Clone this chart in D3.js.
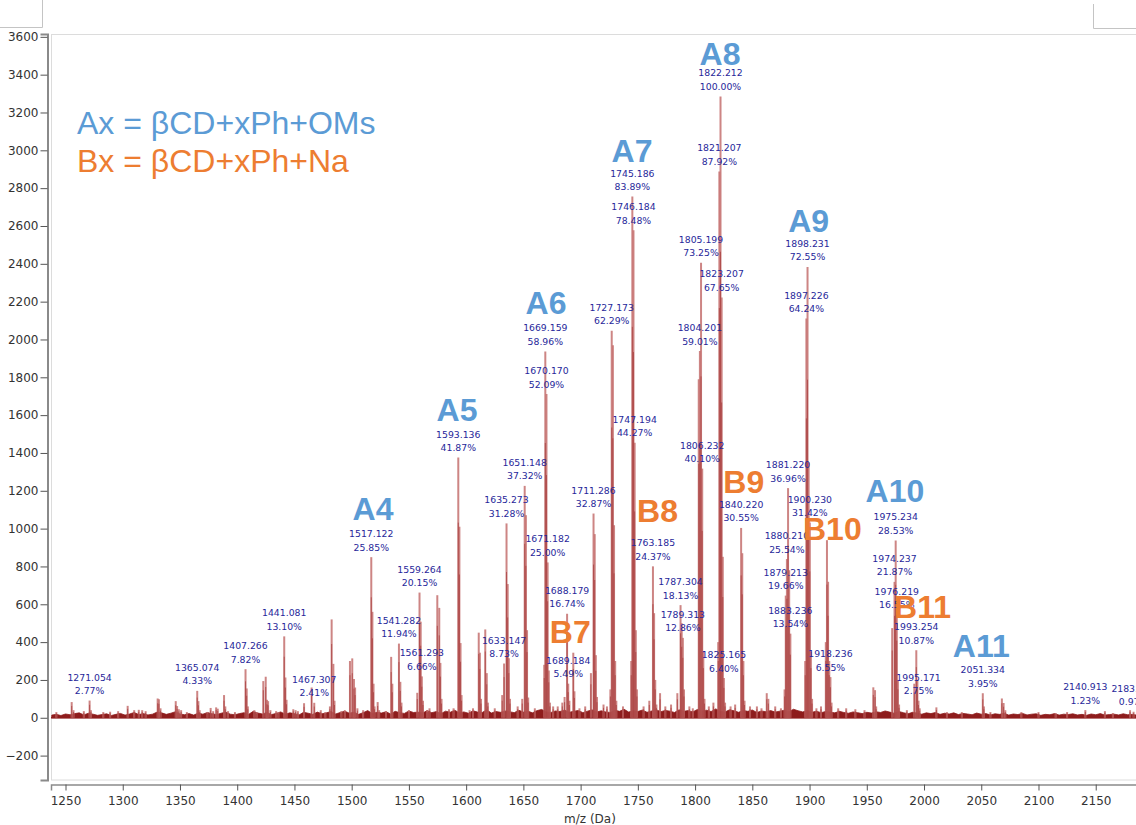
<!DOCTYPE html>
<html>
<head>
<meta charset="utf-8">
<script src="https://cdn.jsdelivr.net/npm/d3@7"></script>
<style>
  body { margin: 0; background: #fff; }
  svg { display: block; font-family: "DejaVu Sans", Verdana, sans-serif; }
</style>
</head>
<body>
<div id="chart"></div>
<script>
// tick labels
const xTickValues = [1250, 1300, 1350, 1400, 1450, 1500, 1550, 1600, 1650, 1700, 1750, 1800, 1850, 1900, 1950, 2000, 2050, 2100, 2150];
const yTickValues = [-200, 0, 200, 400, 600, 800, 1000, 1200, 1400, 1600, 1800, 2000, 2200, 2400, 2600, 2800, 3000, 3200, 3400, 3600];

// intensity of the 100% peak (1822.212)
const basePeak = 3285;

// labelled peaks: m/z text and relative intensity
const labelMz = ["1271.054", "1365.074", "1407.266", "1441.081", "1467.307", "1517.122", "1541.282", "1559.264", "1561.293", "1593.136",
  "1633.147", "1635.273", "1651.148", "1669.159", "1670.170", "1671.182", "1688.179", "1689.184", "1711.286", "1727.173",
  "1745.186", "1746.184", "1747.194", "1763.185", "1787.304", "1789.313", "1804.201", "1805.199", "1806.232", "1821.207",
  "1822.212", "1823.207", "1825.165", "1840.220", "1879.213", "1880.210", "1881.220", "1883.236", "1897.226", "1898.231",
  "1900.230", "1918.236", "1974.237", "1975.234", "1976.219", "1993.254", "1995.171", "2051.334", "2140.913", "2183.053"];
const labelPct = [2.77, 4.33, 7.82, 13.10, 2.41, 25.85, 11.94, 20.15, 6.66, 41.87,
  8.73, 31.28, 37.32, 58.96, 52.09, 25.00, 16.74, 5.49, 32.87, 62.29,
  83.89, 78.48, 44.27, 24.37, 18.13, 12.86, 59.01, 73.25, 40.10, 87.92,
  100.00, 67.65, 6.40, 30.55, 19.66, 25.54, 36.96, 13.54, 64.24, 72.55,
  31.42, 6.55, 21.87, 28.53, 16.55, 10.87, 2.75, 3.95, 1.23, 0.97];

// unlabelled peaks [m/z, intensity]
const minorPeaks = [
  [1242, 30], [1255.4, 83], [1257, 40], [1266, 35], [1272.2, 40], [1283, 30], [1289, 32], [1296, 35], [1304.3, 63], [1310, 40],
  [1314, 42], [1317, 40], [1320, 35], [1330.5, 102], [1331.6, 98], [1333, 50], [1346.3, 88], [1347.5, 62], [1349, 45], [1351, 40],
  [1356, 30], [1366.1, 88], [1367.2, 40], [1374, 30], [1376.8, 52], [1379, 35], [1381.6, 55], [1383, 48], [1388.5, 120], [1389.6, 60],
  [1392, 35], [1398, 30], [1408.3, 155], [1409.3, 60], [1415, 40], [1417, 30], [1422.8, 194], [1424.9, 217], [1426, 95], [1427, 88],
  [1429, 40], [1434, 35], [1436, 30], [1442.1, 213], [1443.1, 95], [1449, 45], [1451, 40], [1453, 35], [1458.4, 77], [1465, 160],
  [1473, 40], [1477, 30], [1481, 60], [1482.5, 520], [1484, 285], [1485, 90], [1491, 35], [1494, 40], [1498.5, 300], [1500.5, 314],
  [1502, 205], [1503, 160], [1505, 50], [1510, 40], [1518.1, 560], [1519.1, 180], [1520, 60], [1522.7, 83], [1524, 40], [1530, 35],
  [1534.5, 322], [1535.5, 180], [1542.5, 190], [1543.5, 80], [1550, 40], [1557.3, 132], [1560.3, 508], [1562.3, 90], [1566, 40], [1568, 50],
  [1574.8, 648], [1576.5, 581], [1577.5, 290], [1578.5, 100], [1585, 45], [1589, 50], [1594.1, 1010], [1595.1, 395], [1596, 120], [1603, 40],
  [1606, 50], [1611, 450], [1612, 344], [1613, 100], [1616.7, 467], [1618, 236], [1619, 80], [1625, 50], [1631.5, 120], [1636.3, 707],
  [1637.3, 315], [1638.3, 100], [1645, 60], [1649, 100], [1652.2, 1071], [1653.2, 463], [1654.2, 107], [1660, 50], [1668.2, 280], [1672.2, 250],
  [1673.2, 80], [1676, 60], [1680, 60], [1684, 80], [1686, 110], [1690.2, 90], [1693.6, 344], [1694.6, 140], [1699, 50], [1704, 60],
  [1709, 236], [1712.3, 971], [1713.3, 331], [1714.3, 110], [1720, 70], [1723, 60], [1726, 150], [1728.2, 1970], [1729.2, 1018], [1730.2, 300],
  [1731.2, 90], [1737, 60], [1744.2, 300], [1748.2, 463], [1749.2, 150], [1755, 60], [1760, 90], [1764.2, 553], [1765.2, 200], [1766.2, 70],
  [1769.4, 130], [1774, 60], [1779, 70], [1784.5, 130], [1788.3, 500], [1790.3, 150], [1795, 60], [1798, 50], [1803.2, 1790], [1807.2, 350],
  [1808.2, 100], [1812, 60], [1816, 80], [1820.2, 400], [1824.2, 851], [1826.2, 80], [1831, 60], [1835, 70], [1841.2, 870], [1842.2, 300],
  [1843.2, 90], [1848, 60], [1854, 60], [1858, 50], [1862.6, 130], [1864, 100], [1870, 60], [1875, 50], [1878.2, 150], [1882.2, 780],
  [1896.2, 300], [1899.2, 1350], [1901.2, 350], [1902.2, 100], [1906, 50], [1910, 60], [1914.2, 400], [1915.2, 939], [1916.2, 719], [1917.2, 300],
  [1919.2, 80], [1925, 50], [1932, 50], [1940, 45], [1948, 40], [1955.7, 161], [1957.2, 146], [1958.2, 60], [1972.2, 474], [1977.2, 200],
  [1978.2, 70], [1985, 40], [1991.5, 180], [1994.2, 200], [1996.2, 50], [2010.8, 55], [2020, 30], [2033, 30], [2052.3, 60], [2058, 30],
  [2068, 102], [2069.5, 78], [2071, 40], [2085, 30], [2100, 30], [2115, 25], [2125, 30], [2158, 35], [2165, 25], [2180, 40], [2186, 30]
];

// baseline noise, one value every 4 Da from 1238
const noiseStart = 1238;
const noiseStep = 4;
const noise = [
  14, 18, 12, 20, 16, 22, 26, 15, 24, 19, 13, 17, 21, 12, 18, 23, 14, 20, 28, 17,
  22, 15, 19, 30, 26, 18, 24, 32, 20, 16, 22, 14, 25, 19, 28, 21, 17, 24, 30, 19,
  16, 22, 27, 18, 34, 25, 20, 28, 17, 23, 31, 19, 26, 22, 15, 29, 24, 18, 30, 21,
  26, 33, 20, 28, 35, 24, 30, 18, 27, 38, 22, 29, 25, 32, 20, 34, 27, 23, 36, 28,
  30, 25, 38, 27, 33, 22, 35, 29, 40, 26, 31, 24, 37, 30, 28, 42, 25, 33, 29, 36,
  32, 27, 40, 30, 35, 26, 38, 44, 31, 28, 36, 33, 41, 29, 34, 39, 27, 35, 42, 30,
  37, 31, 28, 40, 34, 45, 30, 38, 33, 41, 29, 36, 43, 32, 39, 35, 28, 42, 34, 38,
  31, 44, 36, 40, 33, 47, 35, 30, 42, 37, 29, 39, 34, 41, 28, 36, 32, 38, 30, 35,
  40, 33, 45, 37, 31, 38, 29, 35, 27, 33, 30, 26, 34, 28, 24, 31, 27, 22, 29, 25,
  32, 28, 36, 30, 24, 33, 27, 21, 29, 25, 19, 26, 22, 28, 18, 24, 20, 26, 17, 23,
  20, 16, 25, 19, 22, 15, 21, 18, 24, 14, 20, 17, 23, 15, 19, 21, 13, 18, 16, 22,
  14, 19, 17, 21, 15, 18, 13, 20, 16, 22, 14, 17, 19, 15, 21, 16, 18, 14, 20
];

// series annotations: name, m/z position, intensity of the text baseline
const seriesNames = ["A4", "A5", "A6", "A7", "A8", "A9", "A10", "A11", "B7", "B8", "B9", "B10", "B11"];
const seriesMz = [1518.6, 1592.0, 1669.8, 1744.9, 1821.8, 1899.2, 1974.6, 2050.0, 1691.0, 1767.2, 1842.5, 1919.9, 1998.7];
const seriesY = [1043, 1570, 2134, 2940, 3451, 2566, 1142, 323, 394, 1037, 1187, 940, 526];

const legendLines = ["Ax = βCD+xPh+OMs", "Bx = βCD+xPh+Na"];

const W = 1136, H = 825;
const blue = "#5b9bd5", orange = "#ed7d31";

const svg = d3.select("#chart").append("svg")
  .attr("width", W)
  .attr("height", H);

const x = d3.scaleLinear()
  .domain([1237.33, 2190])
  .range([51, 51 + (2190 - 1237.33) * 1.1447]);

const y = d3.scaleLinear()
  .domain([-329, 3615])
  .range([780, 34]);

// window corners at the top
svg.append("path")
  .attr("d", "M0,27.5H42.5V0 M1093.5,4V28.5H1136")
  .attr("fill", "none")
  .attr("stroke", "#c4c4c4");

// plot frame
svg.append("rect")
  .attr("x", 51.5).attr("y", 34.5)
  .attr("width", 1100).attr("height", 745.5)
  .attr("fill", "none")
  .attr("stroke", "#dcdcdc");

const plot = svg.append("g");

// noise band
const noiseData = noise.map((v, i) => [noiseStart + i * noiseStep, v]);
plot.append("path")
  .datum(noiseData)
  .attr("fill", "#8e1c1c")
  .attr("stroke", "#8e1c1c")
  .attr("stroke-width", 0.8)
  .attr("d", d3.area().x(d => x(d[0])).y0(y(0)).y1(d => y(d[1])));

plot.append("line")
  .attr("x1", 51).attr("x2", W)
  .attr("y1", y(0)).attr("y2", y(0))
  .attr("stroke", "#8e1c1c")
  .attr("stroke-width", 1.5);

// sticks
const labelled = labelMz.map((m, i) => ({ mz: +m, text: m, pct: labelPct[i], val: labelPct[i] / 100 * basePeak }));
const sticks = minorPeaks.map(d => ({ mz: d[0], val: d[1] })).concat(labelled);

plot.selectAll(".stick-o")
  .data(sticks)
  .enter()
  .append("line")
  .attr("class", "stick-o")
  .attr("x1", d => x(d.mz)).attr("x2", d => x(d.mz))
  .attr("y1", y(0)).attr("y2", d => y(d.val))
  .attr("stroke", "#c4706e")
  .attr("stroke-opacity", 0.85)
  .attr("stroke-width", 2);

plot.selectAll(".stick-i")
  .data(sticks)
  .enter()
  .append("line")
  .attr("class", "stick-i")
  .attr("x1", d => x(d.mz)).attr("x2", d => x(d.mz))
  .attr("y1", y(0)).attr("y2", d => y(d.val * 0.75))
  .attr("stroke", "#9a2626")
  .attr("stroke-opacity", 0.55)
  .attr("stroke-width", 1);

// peak labels
const lab = plot.selectAll(".plab")
  .data(labelled)
  .enter()
  .append("text")
  .attr("class", "plab")
  .attr("text-anchor", "middle")
  .attr("font-size", 9.3)
  .attr("fill", "#27279a");
lab.append("tspan")
  .attr("x", d => x(d.mz))
  .attr("y", d => y(d.val) - 20)
  .text(d => d.text);
lab.append("tspan")
  .attr("x", d => x(d.mz))
  .attr("y", d => y(d.val) - 6.5)
  .text(d => d.pct.toFixed(2) + "%");

// series names
plot.selectAll(".sname")
  .data(seriesNames)
  .enter()
  .append("text")
  .attr("class", "sname")
  .attr("x", (d, i) => x(seriesMz[i]))
  .attr("y", (d, i) => y(seriesY[i]))
  .attr("text-anchor", "middle")
  .attr("font-family", "Liberation Sans, Arial, sans-serif")
  .attr("font-weight", "bold")
  .attr("font-size", 32)
  .attr("fill", d => d[0] === "A" ? blue : orange)
  .text(d => d);

// legend text
svg.selectAll(".legend")
  .data(legendLines)
  .enter()
  .append("text")
  .attr("class", "legend")
  .attr("x", 77)
  .attr("y", (d, i) => 134 + i * 38)
  .attr("font-family", "Liberation Sans, Arial, sans-serif")
  .attr("font-size", 32)
  .attr("fill", (d, i) => i === 0 ? blue : orange)
  .text(d => d);

// y axis
const yAxisG = svg.append("g")
  .attr("transform", "translate(47.5,0)");
yAxisG.call(d3.axisLeft(y).tickValues(d3.range(-300, 3601, 100)).tickSize(4).tickFormat(""));
yAxisG.call(d3.axisLeft(y).tickValues(yTickValues).tickSize(7).tickPadding(2).tickFormat(d3.format("d")));
yAxisG.selectAll(".domain").attr("stroke", "#8a8a8a").attr("stroke-width", 2);
yAxisG.selectAll(".tick line").attr("stroke", "#555");
yAxisG.selectAll("text").attr("font-size", 12).attr("fill", "#333").attr("font-family", "DejaVu Sans, Verdana, sans-serif");

// x axis
const xAxisG = svg.append("g")
  .attr("transform", "translate(0,784.5)");
xAxisG.call(d3.axisBottom(x).tickValues(d3.range(1250, 2190, 25)).tickSize(3).tickFormat(""));
xAxisG.call(d3.axisBottom(x).tickValues(xTickValues).tickSize(6).tickPadding(6).tickFormat(d3.format("d")));
xAxisG.selectAll(".domain").attr("stroke", "#8a8a8a").attr("stroke-width", 1.5);
xAxisG.selectAll(".tick line").attr("stroke", "#555");
xAxisG.selectAll("text").attr("font-size", 12).attr("fill", "#333").attr("font-family", "DejaVu Sans, Verdana, sans-serif");

svg.append("text")
  .attr("x", 590)
  .attr("y", 823)
  .attr("text-anchor", "middle")
  .attr("font-size", 12)
  .attr("fill", "#333")
  .text("m/z (Da)");
</script>
</body>
</html>
